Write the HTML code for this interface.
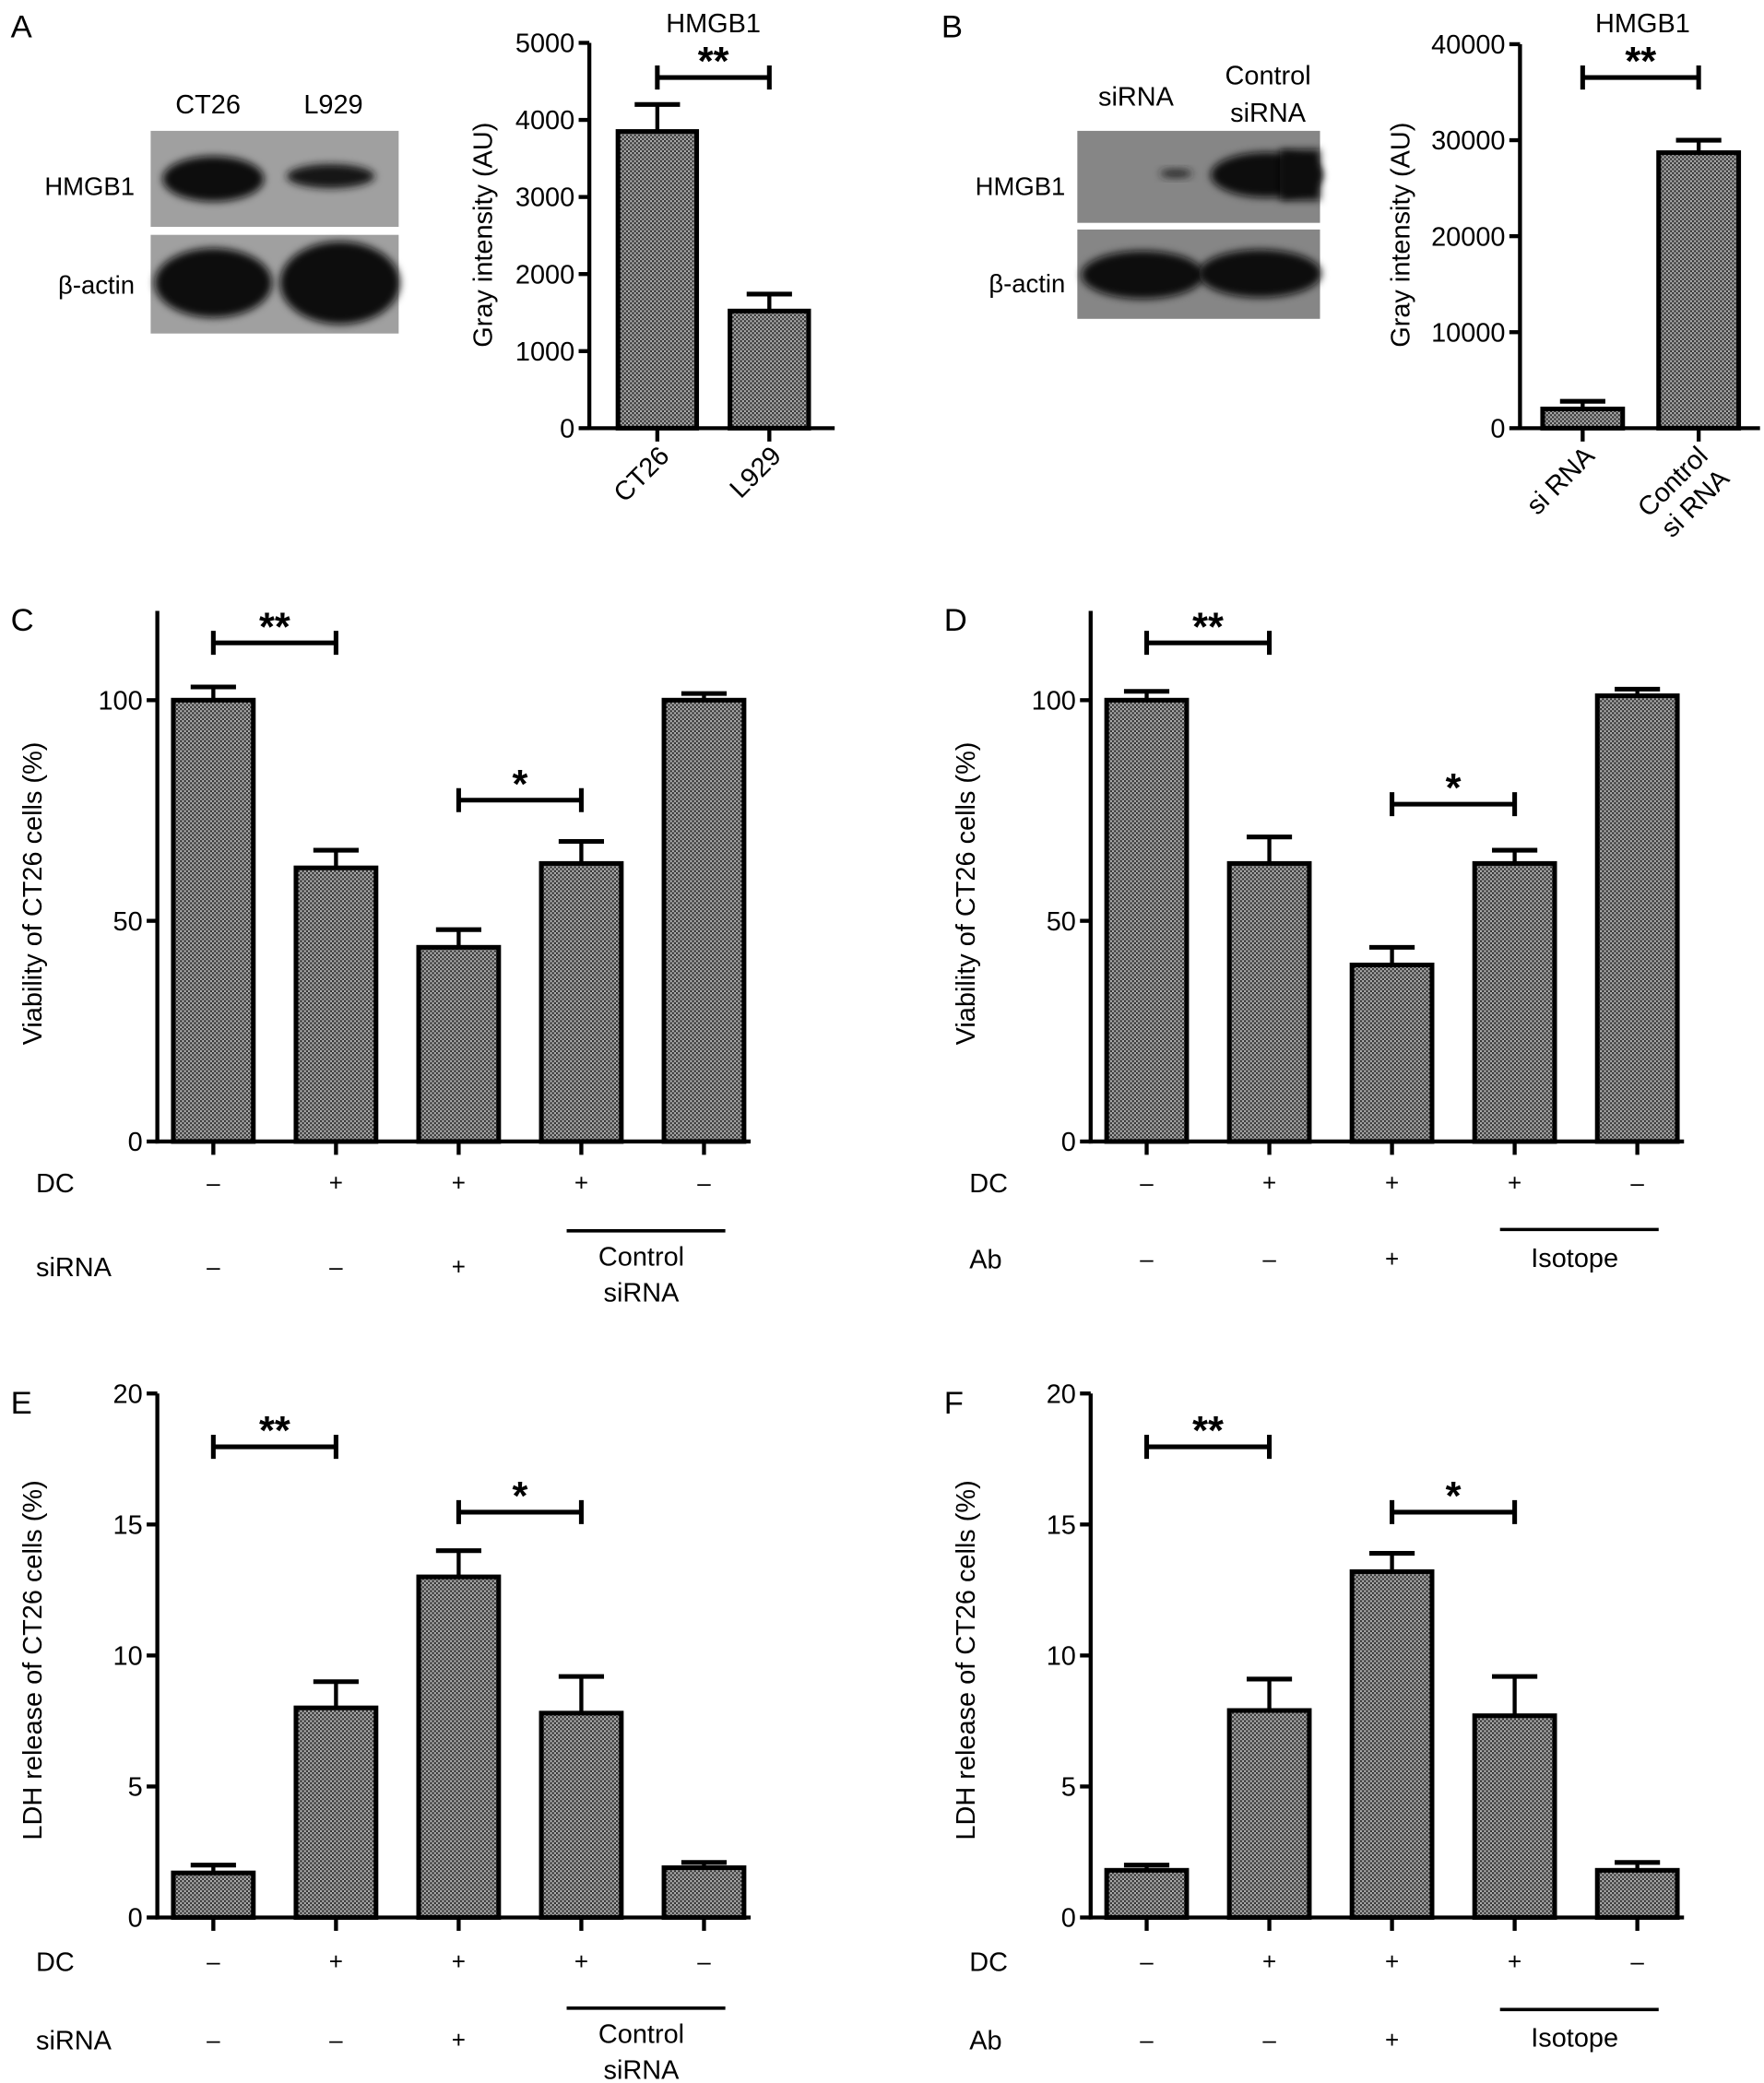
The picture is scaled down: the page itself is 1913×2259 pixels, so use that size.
<!DOCTYPE html>
<html><head><meta charset="utf-8">
<style>
html,body{margin:0;padding:0;background:#fff;}
svg{display:block;font-family:"Liberation Sans",Arial,sans-serif;}
</style></head>
<body>
<svg id="fig" width="1913" height="2259" viewBox="0 0 1323 1562" xmlns="http://www.w3.org/2000/svg">
<defs>
<pattern id="hatch" width="3" height="3" patternUnits="userSpaceOnUse">
<rect width="3" height="3" fill="#b4b4b4"/>
<rect width="1.5" height="1.5" fill="#2e2e2e"/>
<rect x="1.5" y="1.5" width="1.5" height="1.5" fill="#2e2e2e"/>
</pattern>
<filter id="blur" x="-30%" y="-60%" width="160%" height="220%"><feGaussianBlur stdDeviation="3"/></filter>
</defs>

<g>
<text x="8" y="28" font-size="24">A</text>
<text x="156" y="85" font-size="20" text-anchor="middle">CT26</text>
<text x="250" y="85" font-size="20" text-anchor="middle">L929</text>
<text x="101" y="146" font-size="19" text-anchor="end">HMGB1</text>
<text x="101" y="220" font-size="19" text-anchor="end">β-actin</text>
<rect x="113" y="98" width="186" height="72" fill="#a0a0a0"/>
<rect x="113" y="176" width="186" height="74" fill="#a0a0a0"/>
<ellipse cx="160" cy="134" rx="38" ry="17" fill="#111" filter="url(#blur)"/>
<ellipse cx="248" cy="132" rx="33" ry="9" fill="#151515" filter="url(#blur)"/>
<ellipse cx="160" cy="212" rx="44" ry="26" fill="#0e0e0e" filter="url(#blur)"/>
<ellipse cx="255" cy="212" rx="45" ry="31" fill="#0c0c0c" filter="url(#blur)"/>
</g>

<g>
<text x="706" y="28" font-size="24">B</text>
<text x="852" y="79" font-size="20" text-anchor="middle">siRNA</text>
<text x="951" y="63" font-size="20" text-anchor="middle">Control</text>
<text x="951" y="91" font-size="20" text-anchor="middle">siRNA</text>
<text x="799" y="146" font-size="19" text-anchor="end">HMGB1</text>
<text x="799" y="219" font-size="19" text-anchor="end">β-actin</text>
<rect x="808" y="98" width="182" height="69" fill="#868686"/>
<rect x="808" y="172" width="182" height="67" fill="#868686"/>
<ellipse cx="882" cy="130" rx="12" ry="3" fill="#222" filter="url(#blur)"/>
<ellipse cx="950" cy="131" rx="42" ry="17" fill="#0d0d0d" filter="url(#blur)"/>
<rect x="960" y="112" width="30" height="38" fill="#0d0d0d" filter="url(#blur)"/>
<ellipse cx="857" cy="206" rx="46" ry="18" fill="#0e0e0e" filter="url(#blur)"/>
<ellipse cx="945" cy="205" rx="46" ry="18" fill="#0e0e0e" filter="url(#blur)"/>
</g>

<g id="charts"></g>
</svg>

<script>
const catsA = ["CT26", "L929"];
const valsA = [3850, 1520];
const errA = [4200, 1740];
const ticksA = [0, 1000, 2000, 3000, 4000, 5000];

const catsB = ["si RNA", "Control si RNA"];
const valsB = [2000, 28700];
const errB = [2800, 30000];
const ticksB = [0, 10000, 20000, 30000, 40000];

const valsC = [100, 62, 44, 63, 100];
const errC = [103, 66, 48, 68, 101.5];
const ticksC = [0, 50, 100];

const valsD = [100, 63, 40, 63, 101];
const errD = [102, 69, 44, 66, 102.5];
const ticksD = [0, 50, 100];

const valsE = [1.7, 8.0, 13.0, 7.8, 1.9];
const errE = [2.0, 9.0, 14.0, 9.2, 2.1];
const ticksE = [0, 5, 10, 15, 20];

const valsF = [1.8, 7.9, 13.2, 7.7, 1.8];
const errF = [2.0, 9.1, 13.9, 9.2, 2.1];
const ticksF = [0, 5, 10, 15, 20];

const dcRow = ["–", "+", "+", "+", "–"];
const treatRow = ["–", "–", "+"];

const NS = "http://www.w3.org/2000/svg";
const root = document.getElementById("charts");
function mk(tag, attrs, parent) {
  const e = document.createElementNS(NS, tag);
  for (const k in attrs) e.setAttribute(k, attrs[k]);
  (parent || root).appendChild(e);
  return e;
}
function txt(x, y, s, size, anchor, parent, name) {
  const t = mk("text", {x: x, y: y, "font-size": size, "text-anchor": anchor || "middle"}, parent);
  t.textContent = s;
  
  
  return t;
}

function chart(o) {
  const g = mk("g", {});
  
  
  const yScale = v => o.y0 - (v / o.ymax) * (o.y0 - o.ytop);
  const xScale = i => o.x0 + o.first + i * o.step;
  const ya = mk("line", {x1: o.axisX, y1: o.axisTop, x2: o.axisX, y2: o.y0 + 1.5, stroke: "#000", "stroke-width": 3}, g);
  
  
  const xa = mk("line", {x1: o.axisX - 1.5, y1: o.y0, x2: o.axisEnd, y2: o.y0, stroke: "#000", "stroke-width": 3}, g);
  
  
  o.ticks.forEach(t => {
    const y = yScale(t);
    const tl = mk("line", {x1: o.axisX - 8, y1: y, x2: o.axisX, y2: y, stroke: "#000", "stroke-width": 3}, g);
    
    
    txt(o.axisX - 11, y + 7, String(t), 20, "end", g, "y-tick-label");
  });
  const yt = txt(0, 0, o.ytitle, 20, "middle", g, "y-axis-title");
  yt.setAttribute("transform", "translate(" + o.ytitleX + "," + o.ytitleY + ") rotate(-90)");
  o.vals.forEach((v, i) => {
    const cx = xScale(i), top = yScale(v), et = yScale(o.err[i]);
    const bw = o.bw;
    const el = mk("line", {x1: cx, y1: top, x2: cx, y2: et, stroke: "#000", "stroke-width": 3}, g);
    
    
    const ec = mk("line", {x1: cx - 17, y1: et, x2: cx + 17, y2: et, stroke: "#000", "stroke-width": 3.5}, g);
    
    
    const r = mk("rect", {x: cx - bw / 2, y: top, width: bw, height: o.y0 - top, fill: "url(#hatch)", stroke: "#000", "stroke-width": 3.5}, g);
    
    
    const xt = mk("line", {x1: cx, y1: o.y0, x2: cx, y2: o.y0 + 10, stroke: "#000", "stroke-width": 3}, g);
    
    
  });
  o.sig.forEach(s => {
    const x1 = xScale(s[0]), x2 = xScale(s[1]), y = s[2];
    const b = mk("path", {d: "M" + x1 + "," + (y - 9) + "V" + (y + 9) + "M" + x1 + "," + y + "H" + x2 + "M" + x2 + "," + (y - 9) + "V" + (y + 9), stroke: "#000", "stroke-width": 3.5, fill: "none"}, g);
    
    
    txt((x1 + x2) / 2, y - 2, s[3], 30, "middle", g, "significance-stars").setAttribute("font-weight", "bold");
  });
  return {g, xScale, yScale};
}

(function () {
  const c = chart({name: "chart-a", x0: 442, first: 51, step: 84, axisX: 442, axisTop: 32, axisEnd: 626, y0: 321, ytop: 32, ymax: 5000,
    ticks: ticksA, vals: valsA, err: errA, bw: 59, ytitle: "Gray intensity (AU)", ytitleX: 369, ytitleY: 176,
    sig: [[0, 1, 58, "**"]]});
  txt(535, 24, "HMGB1", 20, "middle", c.g, "chart-title-a");
  catsA.forEach((s, i) => {
    const t = txt(0, 0, s, 20, "end", c.g, "x-tick-label");
    t.setAttribute("transform", "translate(" + (c.xScale(i) + 10) + ",343) rotate(-45)");
  });
})();

(function () {
  const c = chart({name: "chart-b", x0: 1140, first: 47, step: 87, axisX: 1140, axisTop: 33, axisEnd: 1320, y0: 321, ytop: 33, ymax: 40000,
    ticks: ticksB, vals: valsB, err: errB, bw: 60, ytitle: "Gray intensity (AU)", ytitleX: 1057, ytitleY: 176,
    sig: [[0, 1, 58, "**"]]});
  txt(1232, 24, "HMGB1", 20, "middle", c.g, "chart-title-b");
  const t0 = txt(0, 0, catsB[0], 20, "end", c.g, "x-tick-label");
  t0.setAttribute("transform", "translate(" + (c.xScale(0) + 10) + ",343) rotate(-45)");
  const t1 = txt(0, 0, "Control", 20, "end", c.g, "x-tick-label");
  t1.setAttribute("transform", "translate(" + (c.xScale(1) + 8) + ",343) rotate(-45)");
  const t2 = txt(0, 0, "si RNA", 20, "end", c.g, "x-tick-label");
  t2.setAttribute("transform", "translate(" + (c.xScale(1) + 24) + ",360) rotate(-45)");
})();

function bottomChart(cfg) {
  const c = chart({name: cfg.name, x0: cfg.ax, first: 42, step: 92, axisX: cfg.ax, axisTop: cfg.top, axisEnd: cfg.ax + 445, y0: cfg.y0, ytop: cfg.ytop, ymax: cfg.ymax,
    ticks: cfg.ticks, vals: cfg.vals, err: cfg.err, bw: 60, ytitle: cfg.ytitle, ytitleX: cfg.ax - 87, ytitleY: cfg.ytY,
    sig: cfg.sig});
  txt(cfg.ax - 110, cfg.top + 15, cfg.letter, 24, "start", c.g, "panel-label");
  txt(cfg.ax - 91, cfg.rowDC + 7, "DC", 20, "start", c.g, "row-label-dc");
  txt(cfg.ax - 91, cfg.rowT + 7, cfg.treat, 20, "start", c.g, "row-label-treatment");
  dcRow.forEach((s, i) => txt(c.xScale(i), cfg.rowDC + 6, s, 18, "middle", c.g, "dc-sign"));
  treatRow.forEach((s, i) => txt(c.xScale(i), cfg.rowT + 6, s, 18, "middle", c.g, "treatment-sign"));
  const l = mk("line", {x1: c.xScale(3) - 11, y1: cfg.lineY, x2: c.xScale(4) + 16, y2: cfg.lineY, stroke: "#000", "stroke-width": 2.5}, c.g);
  
  
  const mid = (c.xScale(3) + c.xScale(4)) / 2 - 1;
  if (cfg.treat === "siRNA") {
    txt(mid, cfg.lineY + 26, "Control", 20, "middle", c.g, "group-label");
    txt(mid, cfg.lineY + 53, "siRNA", 20, "middle", c.g, "group-label");
  } else {
    txt(mid, cfg.lineY + 28, "Isotope", 20, "middle", c.g, "group-label");
  }
}

bottomChart({name: "chart-c", letter: "C", ax: 118, top: 458, y0: 856, ytop: 525, ymax: 100, ticks: ticksC, vals: valsC, err: errC,
  ytitle: "Viability of CT26 cells (%)", ytY: 670, sig: [[0, 1, 482, "**"], [2, 3, 600, "*"]], rowDC: 887, rowT: 950, lineY: 923, treat: "siRNA"});
bottomChart({name: "chart-d", letter: "D", ax: 818, top: 458, y0: 856, ytop: 525, ymax: 100, ticks: ticksD, vals: valsD, err: errD,
  ytitle: "Viability of CT26 cells (%)", ytY: 670, sig: [[0, 1, 482, "**"], [2, 3, 603, "*"]], rowDC: 887, rowT: 944, lineY: 922, treat: "Ab"});
bottomChart({name: "chart-e", letter: "E", ax: 118, top: 1045, y0: 1438, ytop: 1045, ymax: 20, ticks: ticksE, vals: valsE, err: errE,
  ytitle: "LDH release of CT26 cells (%)", ytY: 1245, sig: [[0, 1, 1085, "**"], [2, 3, 1134, "*"]], rowDC: 1471, rowT: 1530, lineY: 1506, treat: "siRNA"});
bottomChart({name: "chart-f", letter: "F", ax: 818, top: 1045, y0: 1438, ytop: 1045, ymax: 20, ticks: ticksF, vals: valsF, err: errF,
  ytitle: "LDH release of CT26 cells (%)", ytY: 1245, sig: [[0, 1, 1085, "**"], [2, 3, 1134, "*"]], rowDC: 1471, rowT: 1530, lineY: 1507, treat: "Ab"});
</script>
</body></html>
